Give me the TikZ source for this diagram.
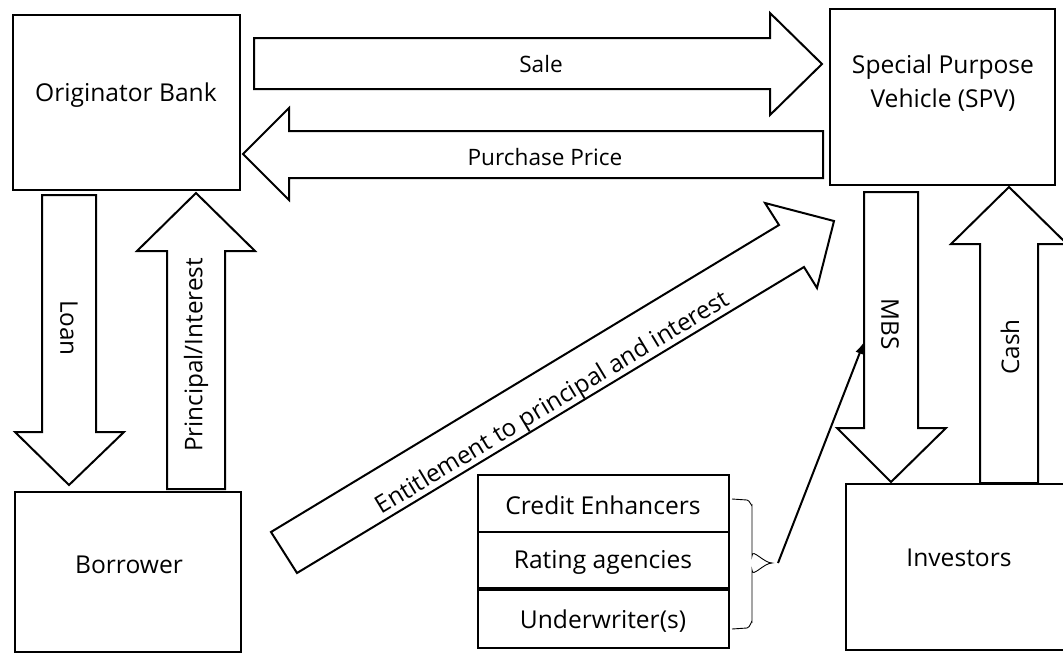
\documentclass[tikz,border=0pt]{standalone}
\usepackage{fontspec}
\setmainfont{Open Sans}
\usetikzlibrary{arrows.meta}
\begin{document}
\begin{tikzpicture}[x=1pt,y=-1pt,
  box/.style={draw,line width=2pt,fill=white},
  blk/.style={draw,line width=2pt,fill=white,line join=miter},
  lbl/.style={font=\fontsize{24.6}{29}\selectfont,inner sep=0pt,align=center},
  rlbl/.style={font=\fontsize{24.3}{29}\selectfont,inner sep=0pt},
  albl/.style={font=\fontsize{22.6}{27}\selectfont,inner sep=0pt}]
\useasboundingbox (0,0) rectangle (1063,654);
% boxes
\draw[box] (13,15) rectangle (240,190);
\node[lbl] (orig) at (126,95) {Originator Bank};
\draw[box] (830,9) rectangle (1055,185);
\node[lbl] (spv) at (943,83) {Special Purpose\\[5pt]Vehicle (SPV)};
\draw[box] (15,492) rectangle (241,652);
\node[lbl] (borr) at (129,565) {Borrower};
\draw[box] (846,484) rectangle (1075,650);
\node[lbl] (inv) at (959,558) {Investors};
% stack
\draw[box] (478,475) rectangle (729,532);
\draw[box] (478,532) rectangle (729,588);
\draw[box] (478,590) rectangle (729,648);
\node[lbl] (ce) at (603,505) {Credit Enhancers};
\node[lbl] (ra) at (603,562) {Rating agencies};
\node[lbl] (uw) at (603,621) {Underwriter(s)};
% block arrows
\draw[blk] (254,38) -- (770,38) -- (770,13) -- (822,64) -- (770,115) -- (770,89) -- (254,89) -- cycle;
\node[albl] (sale) at (541,64) {Sale};
\draw[blk] (823,131) -- (289,131) -- (289,108) -- (243,154) -- (289,200) -- (289,178) -- (823,178) -- cycle;
\node[albl] (pp) at (545,157) {Purchase Price};
\draw[blk] (42,195) -- (96,195) -- (96,432) -- (124,432) -- (69,485) -- (15,432) -- (42,432) -- cycle;
\node[rlbl,rotate=-90] (loan) at (69,328) {Loan};
\draw[blk] (167,489) -- (167,251) -- (137,251) -- (196,193) -- (255,251) -- (225,251) -- (225,489) -- cycle;
\node[rlbl,rotate=90] (pi) at (196,355) {Principal/Interest};
\draw[blk] (864,192) -- (918,192) -- (918,428) -- (946,428) -- (891,482) -- (837,428) -- (864,428) -- cycle;
\node[rlbl,rotate=-90] (mbs) at (890,324) {MBS};
\draw[blk] (980,483) -- (980,244) -- (951,244) -- (1009,187) -- (1067,244) -- (1038,244) -- (1038,483) -- cycle;
\node[rlbl,rotate=90] (cash) at (1010,347) {Cash};
\draw[blk] (271,532) -- (779,225) -- (765,203) -- (834,221) -- (817,288) -- (804,267) -- (297,573) -- cycle;
\node[rlbl,rotate=31.1] (ent) at (553,404) {Entitlement to principal and interest};
% brace and pointer
\coordinate (btip) at (772,563);
\coordinate (mbsin) at (864,342);
\draw[line width=0.9pt] (732,499) -- (747,500) to[out=0,in=-90] (752,505) -- (752,556)
  to[out=90,in=180] (btip) to[out=180,in=-90] (752,570) -- (752,622) to[out=90,in=0] (747,628) -- (732,629);
\draw[line width=2pt,-{Latex[length=12pt,width=9pt]}] ([xshift=6pt]btip) -- (mbsin);
\end{tikzpicture}
\end{document}
